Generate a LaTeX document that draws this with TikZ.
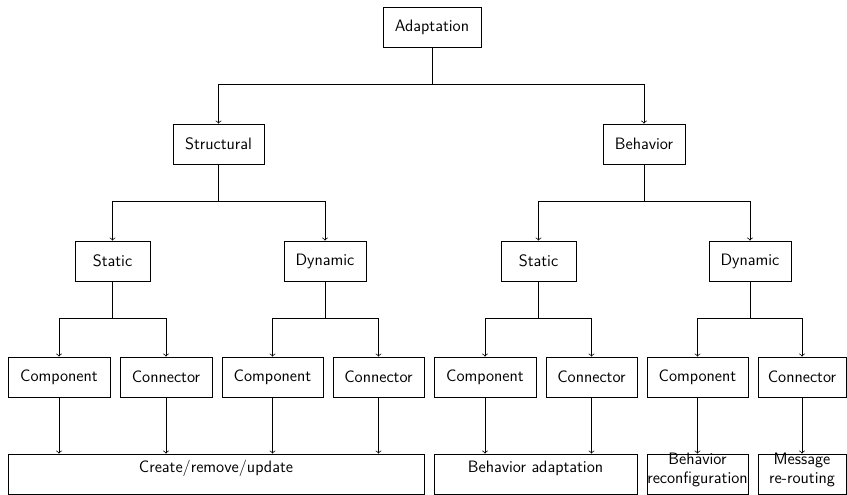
\documentclass[tikz,border=0pt]{standalone}
\usepackage{fontspec}
\begin{document}
\begin{tikzpicture}[x=0.6667pt,y=-0.6667pt,line width=0.5pt,
  txt/.style={font=\sffamily\fontsize{11}{12.3}\selectfont},
  box/.style={draw,minimum height=40*0.6667pt,inner sep=0pt,txt},
  wd/.style={minimum width=#1*0.6667pt},
  arr/.style={->},
  lbl/.style={txt,align=center,inner sep=0pt}]
\useasboundingbox (0,0) rectangle (847,495);

% root
\node[box,wd=98] (ad) at (432,27) {Adaptation};

% second level
\node[box,wd=91] (st) at (218.5,144) {Structural};
\node[box,wd=82] (be) at (644,144) {Behavior};

% third level
\node[box,wd=75] (sl) at (112.5,261) {Static};
\node[box,wd=82] (dl) at (325,261) {Dynamic};
\node[box,wd=75] (sr) at (538.5,261) {Static};
\node[box,wd=82] (dr) at (750,261) {Dynamic};

% fourth level
\node[box,wd=102] (c1) at (59,377) {Component};
\node[box,wd=92]  (n1) at (166,377) {Connector};
\node[box,wd=101] (c2) at (272.5,377) {Component};
\node[box,wd=91]  (n2) at (378.5,377) {Connector};
\node[box,wd=102] (c3) at (485,377) {Component};
\node[box,wd=91]  (n3) at (591.5,377) {Connector};
\node[box,wd=101] (c4) at (697.5,377) {Component};
\node[box,wd=88]  (n4) at (802,377) {Connector};

% result boxes
\node[box,wd=416] (cru) at (216,474) {};
\node[box,wd=203] (bad) at (535.5,474) {};
\node[box,wd=101] (brc) at (697.5,474) {};
\node[box,wd=88]  (mrr) at (802,474) {};
\node[lbl] (cruT) at (216,468) {Create/remove/update};
\node[lbl] (badT) at (535.5,468) {Behavior adaptation};
\node[lbl] (brcT) at (697.5,470) {Behavior\\reconfiguration};
\node[lbl] (mrrT) at (802,470) {Message\\re-routing};

% tree connectors
\draw[arr] (ad.south) -- (ad.south |- 0,84) -| (st.north);
\draw[arr] (ad.south |- 0,84) -| (be.north);

\draw[arr] (st.south) -- (st.south |- 0,201) -| (sl.north);
\draw[arr] (st.south |- 0,201) -| (dl.north);
\draw[arr] (be.south) -- (be.south |- 0,201) -| (sr.north);
\draw[arr] (be.south |- 0,201) -| (dr.north);

\draw[arr] (sl.south) -- (sl.south |- 0,318) -| (c1.north);
\draw[arr] (sl.south |- 0,318) -| (n1.north);
\draw[arr] (dl.south) -- (dl.south |- 0,318) -| (c2.north);
\draw[arr] (dl.south |- 0,318) -| (n2.north);
\draw[arr] (sr.south) -- (sr.south |- 0,318) -| (c3.north);
\draw[arr] (sr.south |- 0,318) -| (n3.north);
\draw[arr] (dr.south) -- (dr.south |- 0,318) -| (c4.north);
\draw[arr] (dr.south |- 0,318) -| (n4.north);

% into the result boxes
\draw[arr] (c1.south) -- (c1.south |- cru.north);
\draw[arr] (n1.south) -- (n1.south |- cru.north);
\draw[arr] (c2.south) -- (c2.south |- cru.north);
\draw[arr] (n2.south) -- (n2.south |- cru.north);
\draw[arr] (c3.south) -- (c3.south |- bad.north);
\draw[arr] (n3.south) -- (n3.south |- bad.north);
\draw[arr] (c4.south) -- (brc.north);
\draw[arr] (n4.south) -- (mrr.north);
\end{tikzpicture}
\end{document}
